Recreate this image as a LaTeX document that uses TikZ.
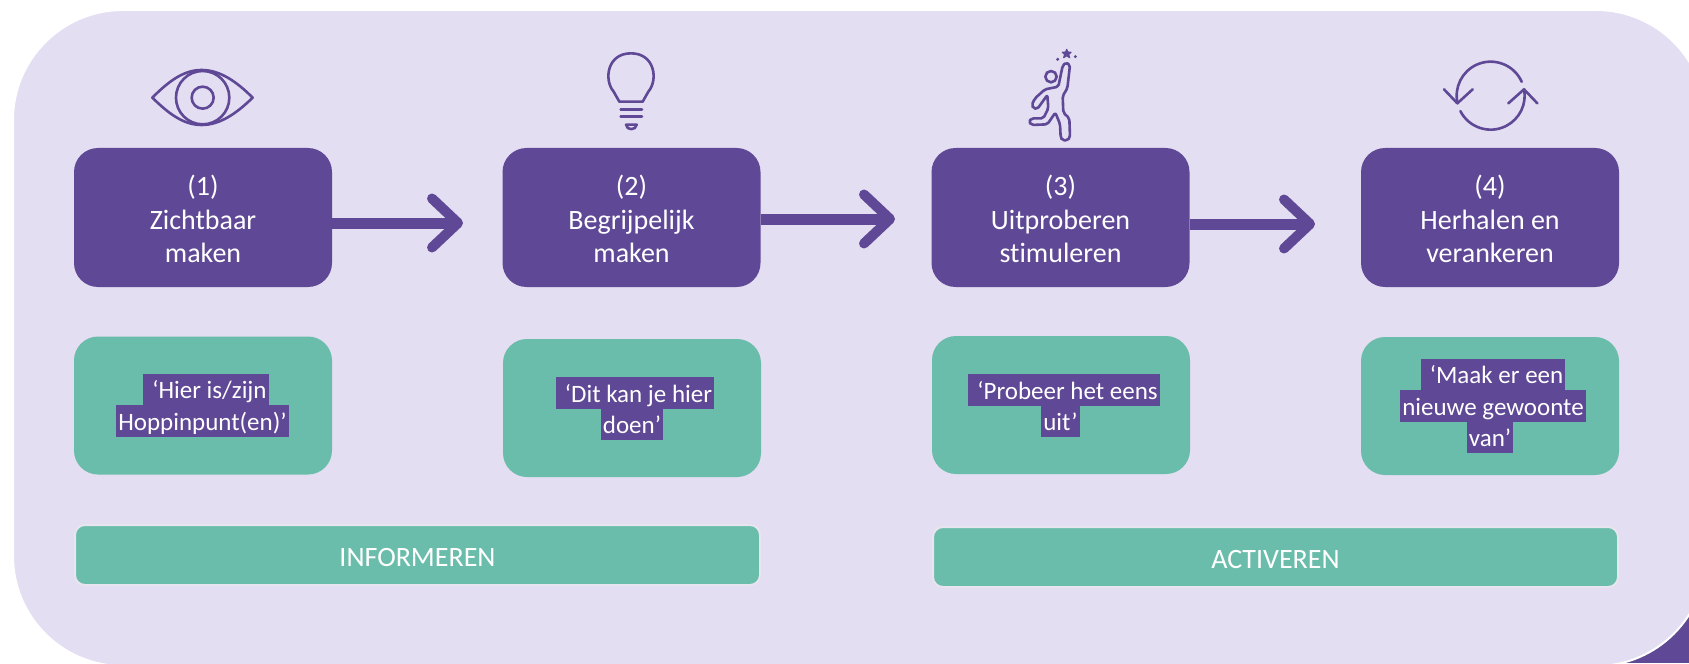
\documentclass[tikz,border=0pt]{standalone}
\usepackage{fontspec}
\setmainfont[Ligatures=NoCommon]{Carlito}
\usetikzlibrary{arrows.meta}
\definecolor{hoppurple}{HTML}{5F4895}
\definecolor{hopgreen}{HTML}{6ABDAA}
\definecolor{hoplilac}{HTML}{E3DEF2}
\tikzset{
  stepbox/.style={fill=hoppurple, text=white, align=center, rounded corners=12pt, minimum width=129pt, minimum height=69.5pt, inner sep=0pt, outer sep=0pt, text height=45pt, text depth=0pt, font=\fontsize{14}{16.75}\selectfont},
  quotebox/.style={fill=hopgreen, rounded corners=12pt, minimum width=129pt, minimum height=69pt, inner sep=0pt, outer sep=0pt},
  quoteline/.style={fill=hoppurple, text=white, inner xsep=1pt, inner ysep=0pt, outer sep=0pt, minimum height=15.7pt, text height=11pt, text depth=2pt, font=\fontsize{12.5}{15.5}\selectfont},
  phasebar/.style={fill=hopgreen, draw=black!5!hoplilac!60!white, line width=1pt, text=white, rounded corners=5pt, minimum width=342.5pt, minimum height=30pt, inner sep=0pt, outer sep=0pt, text height=11pt, text depth=0pt, font=\fontsize{14}{16.75}\selectfont},
  flowarrow/.style={draw=hoppurple, line width=5.5pt, -{Straight Barb[length=13pt,width=24.5pt,line width=5pt,round]}},
  iconline/.style={draw=hoppurple, line width=1.3pt, line cap=round, line join=round},
}
\begin{document}
\begin{tikzpicture}[x=0.5pt, y=0.5pt, yscale=-1]
\useasboundingbox (0,0) rectangle (1689,663);
\clip (0,0) rectangle (1689,663);
% panel
\fill[hoppurple] (1600,590) rectangle (1689,663);
\draw[fill=hoplilac, draw=white, line width=1pt, rounded corners=55pt] (13,10) rectangle (1706,666);
% top row
\foreach \n/\xx/\txt in {1/203/{(1)\\Zichtbaar\\maken}, 2/631.5/{(2)\\Begrijpelijk\\maken}, 3/1060.5/{(3)\\Uitproberen\\stimuleren}, 4/1490/{(4)\\Herhalen en\\verankeren}}{
  \node[stepbox] (box\n) at (\xx,217.5) {\txt};
}
\coordinate (tip1) at (463,223);
\coordinate (tip2) at (895,219);
\coordinate (tip3) at (1315,224);
\draw[flowarrow] (box1.east |- tip1) -- (tip1);
\draw[flowarrow] (box2.east |- tip2) -- (tip2);
\draw[flowarrow] (box3.east |- tip3) -- (tip3);
% quotes
\node[quotebox] (quote1) at (203,405.5) {};
\node[quotebox] (quote2) at (632,408) {};
\node[quotebox] (quote3) at (1061,405) {};
\node[quotebox] (quote4) at (1490,406) {};
\node[quoteline] (q1a) at (206,389.5) {\hspace{3.5pt}‘Hier is/zijn};
\node[quoteline] (q1b) at (202.5,421) {Hoppinpunt(en)’};
\node[quoteline] (q2a) at (635,393) {\hspace{3.5pt}‘Dit kan je hier};
\node[quoteline] (q2b) at (632,424.5) {doen’};
\node[quoteline] (q3a) at (1064,390) {\hspace{3.5pt}‘Probeer het eens\hspace{3pt}};
\node[quoteline] (q3b) at (1060.5,421.5) {uit’};
\node[quoteline] (q4a) at (1493,374.5) {\hspace{3.5pt}‘Maak er een\hspace{3pt}};
\node[quoteline] (q4b) at (1493,406) {nieuwe gewoonte\hspace{3pt}};
\node[quoteline] (q4c) at (1490,437) {van’};
% phases
\node[phasebar] (phase1) at (417.5,555) {INFORMEREN};
\node[phasebar] (phase2) at (1275.5,557) {ACTIVEREN};
% eye
\begin{scope}[shift={(100,30)}, scale=0.3333]
\draw[iconline] (157,203) .. controls (205,155) and (250,120) .. (305,120) .. controls (360,120) and (410,155) .. (458,203) .. controls (410,250) and (360,285) .. (305,285) .. controls (250,285) and (205,250) .. (157,203) -- cycle;
\draw[iconline] (308,203) circle[radius=80];
\draw[iconline] (308,203) circle[radius=33];
\end{scope}
% bulb
\begin{scope}[shift={(560,30)}, scale=0.3333]
\draw[iconline] (178,215) -- (248,215) -- (265,185) .. controls (295,150) and (285,70) .. (213,70) .. controls (141,70) and (131,150) .. (161,185) -- cycle;
\draw[iconline] (182,238) -- (246,238);
\draw[iconline] (182,260) -- (246,260);
\draw[iconline] (198,284) -- (230,284) .. controls (228,302) and (200,302) .. (198,284) -- cycle;
\end{scope}
% person
\begin{scope}[shift={(990,30)}, scale=0.3333]
\draw[iconline] (183,140) circle[radius=17];
\draw[iconline, rounded corners=1pt] (228,97) -- (240,105) -- (232,175) -- (218,198) -- (220,248) -- (238,265) -- (240,322) -- (233,331) -- (217,331) -- (212,322) -- (210,282) -- (196,248) -- (172,283) -- (125,285) -- (116,275) -- (125,265) -- (160,265) -- (175,235) -- (172,195) -- (142,237) -- (130,235) -- (125,225) -- (135,205) -- (165,178) -- (205,170) -- (218,107) -- cycle;
\draw[iconline, fill=hoppurple, line width=0.6pt] (230,58) -- (233,66) -- (243,67) -- (236,73) -- (239,83) -- (230,77) -- (221,83) -- (224,73) -- (217,67) -- (227,66) -- cycle;
\fill[hoppurple] (203,88) circle[radius=5] (256,80) circle[radius=5];
\end{scope}
% repeat
\begin{scope}[shift={(1420,50)}, scale=0.3333]
\draw[iconline] (212,137) ++(-24:102) arc[start angle=-24, end angle=-193, radius=102];
\draw[iconline] (212,137) ++(153:102) arc[start angle=153, end angle=-11, radius=102];
\draw[iconline] (72,118) -- (112,160) -- (158,118);
\draw[iconline] (265,160) -- (312,118) -- (352,160);
\end{scope}
\end{tikzpicture}
\end{document}
